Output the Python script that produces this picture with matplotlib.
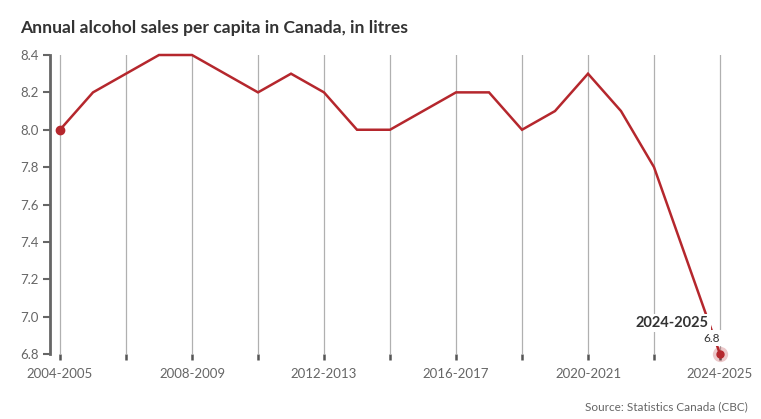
import matplotlib
matplotlib.use("Agg")
import matplotlib.pyplot as plt
from matplotlib.ticker import FixedLocator

plt.rcParams['font.family'] = ['Lato', 'DejaVu Sans']

years = list(range(2004, 2025))
values = [8.0, 8.2, 8.3, 8.4, 8.4, 8.3, 8.2, 8.3, 8.2, 8.0, 8.0,
          8.1, 8.2, 8.2, 8.0, 8.1, 8.3, 8.1, 7.8, 7.3, 6.8]
major_years = [2004, 2008, 2012, 2016, 2020, 2024]
minor_years = [2006, 2010, 2014, 2018, 2022]
yticks = [6.8, 7.0, 7.2, 7.4, 7.6, 7.8, 8.0, 8.2, 8.4]

def label(y):
    return f"{y}-{y+1}"

W, H = 761, 419
fig = plt.figure(figsize=(W/100, H/100), dpi=100)
ax = fig.add_axes([50/W, 1-354/H, 685/W, 299/H])

red = '#b5272d'
gray_txt = '#666666'

ax.plot(years, values, color=red, lw=1.8, zorder=3, solid_joinstyle='miter', clip_on=False)
ax.plot(years[0], values[0], 'o', color=red, ms=6, zorder=4, clip_on=False)
ax.plot(years[-1], values[-1], 'o', color=red, ms=11, alpha=0.25, mec='none', zorder=4, clip_on=False)
ax.plot(years[-1], values[-1], 'o', color=red, ms=5, zorder=5, clip_on=False)

ax.set_xlim(2004 - 10/33, 2024 + 15/33)
ax.set_ylim(6.8, 8.4)

ax.xaxis.set_major_locator(FixedLocator(major_years))
ax.xaxis.set_minor_locator(FixedLocator(minor_years))
ax.set_xticklabels([label(y) for y in major_years])
ax.set_yticks(yticks)
ax.set_yticklabels([f"{v:.1f}" for v in yticks])

ax.grid(True, which='both', axis='x', color='#b0b0b0', lw=0.9, zorder=1)
for s in ['top', 'right', 'bottom']:
    ax.spines[s].set_visible(False)
ax.spines['left'].set_color('#666666')
ax.spines['left'].set_linewidth(2)

ax.tick_params(axis='y', length=5, width=1.5, color='#666666', labelcolor=gray_txt,
               labelsize=9.5, pad=3)
ax.tick_params(axis='x', which='both', length=4, width=1.8, color='#555555',
               labelcolor=gray_txt, labelsize=9.5, pad=6)

ax.text(2024 - 1.45, 6.965, label(2024), fontsize=10.5, fontweight='bold', color='#333333',
        ha='center', va='center', zorder=6,
        bbox=dict(boxstyle='square,pad=0.15', fc='white', ec='none'))
ax.text(2024 - 0.25, 6.885, "6.8", fontsize=8.5, color='#333333',
        ha='center', va='center', zorder=6,
        bbox=dict(boxstyle='square,pad=0.2', fc='white', ec='none'))

fig.text(20/W, 1-28/H, "Annual alcohol sales per capita in Canada, in litres",
         fontsize=12.6, fontweight='bold', color='#333333', ha='left', va='center')
fig.text(748/W, 1-407/H, "Source: Statistics Canada (CBC)", fontsize=8.5,
         color=gray_txt, ha='right', va='center')

fig.savefig("out.png", dpi=100)
